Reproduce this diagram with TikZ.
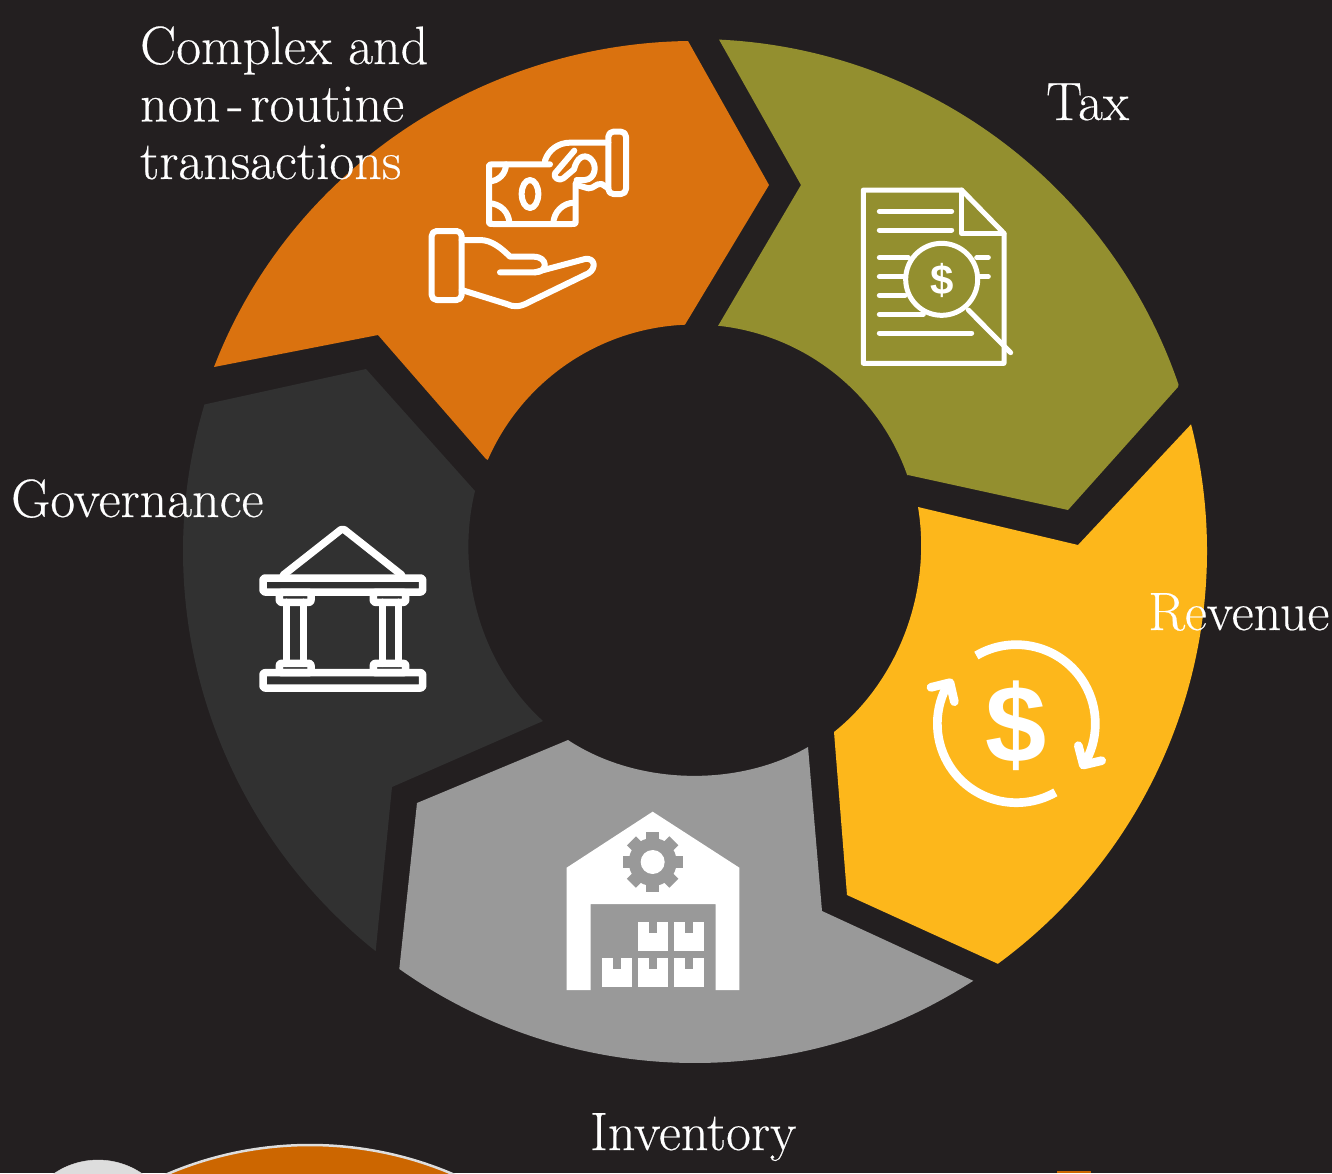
\documentclass[tikz,border=0pt]{standalone}
\usepackage{fontspec}
\usetikzlibrary{calc}
\newfontfamily\iconsans[Ligatures=TeX]{Liberation Sans}
\newfontfamily\labelfont[Ligatures=TeX,FakeBold=0.35]{Latin Modern Roman}
\definecolor{bgdark}{HTML}{231F20}
\definecolor{segorange}{HTML}{DA720F}
\definecolor{segolive}{HTML}{938F2F}
\definecolor{segyellow}{HTML}{FDB71B}
\definecolor{seggray}{HTML}{999999}
\definecolor{segdark}{HTML}{313131}
\definecolor{lowerorange}{HTML}{CC6600}
\definecolor{lowerlight}{HTML}{DDDDDD}
\tikzset{
  label text/.style={text=white,inner sep=0pt,font=\labelfont\fontsize{54}{57.5}\selectfont},
  iconline/.style={draw=white,line width=#1,line cap=round,line join=round},
  iconline/.default=6pt
}
\begin{document}
\begin{tikzpicture}[x=1pt,y=1pt,yscale=-1]
\useasboundingbox (0,0) rectangle (1332,1173);
\clip (0,0) rectangle (1332,1173);
\fill[bgdark] (0,0) rectangle (1332,1173);
\coordinate (co) at (695,551);
\coordinate (ci) at (694.5,550);
% lower slide remnants
\filldraw[fill=lowerlight,draw=lowerlight] (98,1238) circle[radius=78];
\filldraw[fill=lowerorange,draw=lowerlight,line width=2.5pt] (310,1509) circle[radius=364];
\fill[lowerorange] (1057,1171) rectangle (1091,1173);
% segments
\fill[segorange] (214,367) .. controls (289,172) and (479,44) .. (688,41)
  -- (769,185) -- ($(ci)+(-92.43:225.5)$) arc[start angle=-92.43,end angle=-156.42,radius=225.5]
  -- (486,459) -- (378,335) -- cycle;
\fill[segolive] ($(co)+(-87.31:512)$) arc[start angle=-87.31,end angle=-18.9,radius=511]
  -- (1178,387) -- (1068,510) -- (908,475) -- ($(ci)+(-19.36:225.5)$) arc[start angle=-19.36,end angle=-83.98,radius=225.5]
  -- (801,185) -- cycle;
\fill[segyellow] ($(co)+(-14.33:512)$) arc[start angle=-14.33,end angle=53.73,radius=512]
  -- (847,895) -- (834,732) .. controls (899,680) and (932,590.5) .. (918,507)
  -- (1078,545) -- cycle;
\fill[seggray] ($(co)+(57.08:512)$) arc[start angle=57.08,end angle=125.28,radius=512]
  -- (417,803) -- (568,740) .. controls (636,785) and (737,788) .. (808,747)
  -- (822,911) -- cycle;
\fill[segdark] ($(co)+(128.59:512)$) arc[start angle=128.59,end angle=196.63,radius=512]
  -- (366,369) -- (475,491) .. controls (455,573) and (481,665) .. (543,721)
  -- (392,787) -- cycle;
% money icon
\begin{scope}[shift={(420,120)},scale=0.33333]
  \draw[iconline,rounded corners=5pt] (35,333) rectangle (125,540);
  \draw[iconline] (125,360) -- (180,360) .. controls (215,360) and (245,385) .. (270,410) -- (340,410)
    .. controls (385,410) and (385,457) .. (345,457) -- (240,457);
  \draw[iconline] (345,457) -- (495,417) .. controls (525,412) and (530,445) .. (505,460)
    -- (330,545) .. controls (300,562) and (280,562) .. (260,552) -- (125,510);
  \draw[iconline] (390,133) -- (215,133) .. controls (207,133) and (207,133) .. (207,145) -- (207,300)
    .. controls (207,312) and (207,312) .. (219,312) -- (455,312)
    .. controls (467,312) and (467,312) .. (467,300) -- (467,190);
  \draw[iconline] (330,222) ellipse[x radius=25,y radius=42];
  \draw[iconline] (258,133) arc[start angle=0,end angle=90,radius=51];
  \draw[iconline] (207,250) arc[start angle=-90,end angle=0,radius=61];
  \draw[iconline] (400,312) arc[start angle=180,end angle=270,radius=64];
  \draw[iconline,rounded corners=5pt] (565,35) rectangle (618,222);
  \draw[iconline] (565,68) -- (450,68) .. controls (415,68) and (385,90) .. (375,122);
  \draw[iconline] (463,92) -- (405,160) .. controls (398,172) and (418,185) .. (430,175) -- (462,148)
    .. controls (470,115) and (490,100) .. (510,115) .. controls (535,135) and (525,178) .. (495,180) -- (470,180);
  \draw[iconline] (470,195) -- (505,205) .. controls (525,205) and (525,190) .. (545,192) -- (565,205);
\end{scope}
% tax document icon
\begin{scope}[shift={(850,180)},scale=0.33333]
  \draw[iconline=5pt] (40,30) -- (335,30) -- (462,160) -- (462,550) -- (40,550) -- cycle;
  \draw[iconline=5pt] (335,30) -- (335,160) -- (462,160);
  \draw[iconline=5pt] (88,94) -- (305,94) (88,150) -- (305,150)
    (88,233) -- (175,233) (380,233) -- (415,233)
    (88,290) -- (160,290) (392,290) -- (415,290)
    (88,346) -- (165,346)
    (88,403) -- (220,403)
    (88,459) -- (365,459);
  \draw[iconline=5pt] (275,298) circle[radius=108];
  \draw[iconline=5pt] (355,390) -- (482,518);
  \node[text=white,inner sep=0pt,font=\iconsans\bfseries\fontsize{42}{42}\selectfont] (taxdollar) at (275,302) {\$};
\end{scope}
% governance icon
\begin{scope}[shift={(250,515)},scale=0.33333]
  \begin{scope}[iconline=7.5pt,rounded corners=2pt]
    \draw (100,180) -- (278,40) -- (455,180);
    \draw (39,189) rectangle (518,231);
    \draw (39,473) rectangle (518,519);
    \draw (88,232) rectangle (183,262);
    \draw (370,232) rectangle (467,262);
    \draw (88,445) rectangle (183,473);
    \draw (370,445) rectangle (467,473);
    \draw (110,262) -- (110,445) (160,262) -- (160,445);
    \draw (397,262) -- (397,445) (445,262) -- (445,445);
  \end{scope}
\end{scope}
% warehouse icon
\begin{scope}[shift={(555,800)},scale=0.33333]
  \fill[white] (35,203) -- (293,35) -- (553,203) -- (553,570) -- (482,570) -- (482,312)
    -- (107,312) -- (107,570) -- (35,570) -- cycle;
  \fill[seggray] (293,186) circle[radius=72];
  \foreach \a in {0,45,...,315}
    \fill[seggray,rotate around={\a:(293,186)}] (274,96) rectangle (312,130);
  \fill[white] (293,186) circle[radius=36];
  \foreach \bx/\by in {250/365,358/365,142/473,250/473,358/473}{
    \fill[white] (\bx,\by) rectangle ++(90,88);
    \fill[seggray] ({\bx+33},\by) rectangle ++(24,35);
  }
\end{scope}
% revenue icon
\begin{scope}[shift={(915,630)},scale=0.33333]
  \draw[draw=white,line width=8.7pt] ($(304,281)+(-120.4:237)$) arc[start angle=-120.4,end angle=31.7,radius=237];
  \draw[draw=white,line width=8.7pt] ($(304,281)+(60.4:237)$) arc[start angle=60.4,end angle=211,radius=237];
  \draw[iconline=8.7pt] (490,347) -- (505,405) -- (560,392);
  \draw[iconline=8.7pt] (48,172) -- (105,158) -- (118,215);
  \node[text=white,inner sep=0pt,font=\iconsans\bfseries\fontsize{110}{110}\selectfont] (revdollar) at (304,286) {\$};
\end{scope}
% labels
\node[label text,anchor=base west,align=left] (complex) at (140,179) {Complex and\\non\kern7pt-\kern7pt routine\\transactions};
\node[label text,anchor=base west] (tax) at (1046,120) {Tax};
\node[label text,anchor=base west] (gov) at (11,517) {Governance};
\node[label text,anchor=base west] (rev) at (1148,630) {Revenue};
\node[label text,anchor=base west] (inv) at (590,1150) {Inventory};
\end{tikzpicture}
\end{document}
